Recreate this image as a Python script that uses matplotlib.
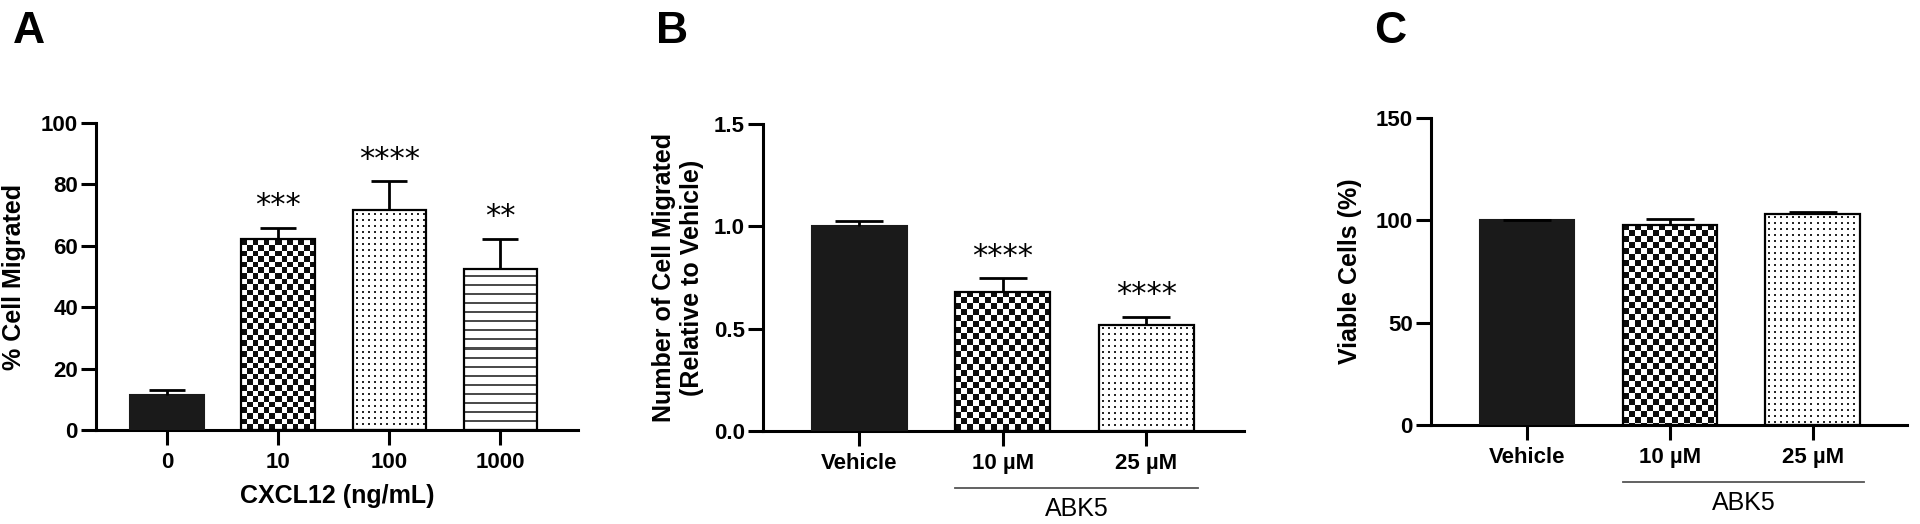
import matplotlib
matplotlib.use("Agg")
import matplotlib.pyplot as plt
import matplotlib.transforms as mtransforms
import numpy as np

plt.rcParams['font.family'] = ['Liberation Sans', 'DejaVu Sans']

# Panel A: CXCL12 dose response
a_labels = ['0', '10', '100', '1000']
a_means = [11.4, 62.2, 71.5, 52.6]
a_sem = [1.6, 3.7, 9.5, 9.7]
a_stars = ['', '***', '****', '**']
a_fills = ['solid', 'checker', 'dots', 'lines']

# Panel B: migration relative to vehicle
b_labels = ['Vehicle', '10 µM', '25 µM']
b_means = [1.0, 0.68, 0.52]
b_sem = [0.028, 0.066, 0.036]
b_stars = ['', '****', '****']
b_fills = ['solid', 'checker', 'dots']

# Panel C: viability
c_labels = ['Vehicle', '10 µM', '25 µM']
c_means = [100.0, 97.8, 103.2]
c_sem = [0.0, 2.8, 1.1]
c_stars = ['', '', '']
c_fills = ['solid', 'checker', 'dots']

W, H = 1920, 524
fig = plt.figure(figsize=(W / 100, H / 100), dpi=100)

LW = 2.2
TICK = dict(length=11, width=LW, labelsize=16, direction='out')


def make_axes(left, right, y0, ytop):
    return fig.add_axes([left / W, (H - y0) / H, (right - left) / W, (y0 - ytop) / H])


def pattern_fill(ax, x, h, w, kind, cell):
    # pixel-sized pattern image clipped to the bar rectangle
    p0 = ax.transData.transform((x - w / 2, 0))
    p1 = ax.transData.transform((x + w / 2, h))
    nx = int(round(p1[0] - p0[0]))
    ny = int(round(p1[1] - p0[1]))
    jj, ii = np.meshgrid(np.arange(nx), np.arange(ny))
    img = np.ones((ny, nx))
    if kind == 'checker':
        mask = ((jj / cell).astype(int) + (ii / cell).astype(int)) % 2 == 0
        img[mask] = 0.05
    elif kind == 'dots':
        mask = (jj % 6 >= 3) & (jj % 6 < 5) & (ii % 6 >= 3) & (ii % 6 < 5)
        img[mask] = 0.15
    elif kind == 'lines':
        mask = (ii % 9 >= 7)
        img[mask] = 0.3
    ax.imshow(img, extent=(x - w / 2, x + w / 2, 0, h), cmap='gray', vmin=0, vmax=1,
              interpolation='nearest', aspect='auto', zorder=1)


def panel(ax, labels, means, sem, stars, fills, xlim, ylim, yticks, yticklabels, ylabel,
          bar_w, cap, cell, ylabelpad):
    x = np.arange(len(labels))
    ax.set_xlim(*xlim)
    ax.set_ylim(*ylim)
    for xi, m, f in zip(x, means, fills):
        if f == 'solid':
            ax.bar(xi, m, width=bar_w, color='#1a1a1a', edgecolor='#1a1a1a', linewidth=1.5, zorder=3)
        else:
            pattern_fill(ax, xi, m, bar_w, f, cell)
            ax.bar(xi, m, width=bar_w, facecolor='none', edgecolor='black', linewidth=1.6, zorder=3)
    eb = ax.errorbar(x, means, yerr=[np.zeros(len(x)), sem], fmt='none', ecolor='black',
                     elinewidth=2, capsize=cap, capthick=2, zorder=4)
    eb[1][0].set_visible(False)  # hide lower caps
    for xi, m, s, st in zip(x, means, sem, stars):
        if st:
            ax.annotate(st, xy=(xi, m + s), xytext=(0, 16), textcoords='offset points',
                        ha='center', va='center', fontsize=22, family='DejaVu Sans')
    ax.set_xlim(*xlim)
    ax.set_ylim(*ylim)
    ax.set_xticks(x)
    ax.set_xticklabels(labels, fontweight='bold')
    ax.set_yticks(yticks)
    ax.set_yticklabels(yticklabels, fontweight='bold')
    ax.tick_params(axis='x', pad=5, **TICK)
    ax.tick_params(axis='y', pad=2, **TICK)
    for s in ['top', 'right']:
        ax.spines[s].set_visible(False)
    for s in ['left', 'bottom']:
        ax.spines[s].set_linewidth(LW)
    ax.set_ylabel(ylabel, fontsize=18, fontweight='bold', labelpad=ylabelpad)


def group_bar(ax, x0, x1, text):
    trans = mtransforms.blended_transform_factory(ax.transData, ax.transAxes)
    ax.plot([x0, x1], [-0.185, -0.185], color='#555555', lw=1.3, transform=trans, clip_on=False)
    ax.text((x0 + x1) / 2, -0.255, text, transform=trans, ha='center', va='center', fontsize=18)


axA = make_axes(96, 578, 430, 123)
panel(axA, a_labels, a_means, a_sem, a_stars, a_fills, (-0.64, 3.70), (0, 100),
      [0, 20, 40, 60, 80, 100], ['0', '20', '40', '60', '80', '100'],
      '% Cell Migrated', 0.66, 13, 5.6, 11)
axA.set_xlabel('CXCL12 (ng/mL)', fontsize=18, fontweight='bold', labelpad=8)

axB = make_axes(763, 1244, 431, 124)
panel(axB, b_labels, b_means, b_sem, b_stars, b_fills, (-0.67, 2.68), (0, 1.5),
      [0.0, 0.5, 1.0, 1.5], ['0.0', '0.5', '1.0', '1.5'],
      'Number of Cell Migrated\n(Relative to Vehicle)', 0.66, 17.5, 6, 7)
group_bar(axB, 0.67, 2.36, 'ABK5')

axC = make_axes(1431, 1907, 425, 118)
panel(axC, c_labels, c_means, c_sem, c_stars, c_fills, (-0.67, 2.66), (0, 150),
      [0, 50, 100, 150], ['0', '50', '100', '150'],
      'Viable Cells (%)', 0.66, 17.5, 6, 10)
group_bar(axC, 0.67, 2.36, 'ABK5')

for letter, px in [('A', 13), ('B', 656), ('C', 1374)]:
    fig.text(px / W, 1 - 43 / H, letter, fontsize=32, fontweight='bold', va='baseline', ha='left')

fig.savefig('out.png', dpi=100)
